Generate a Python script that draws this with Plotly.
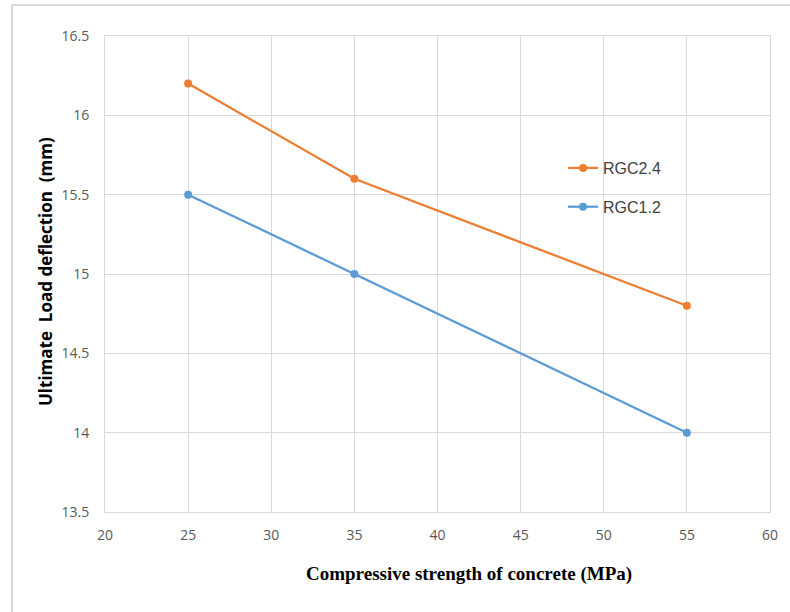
import plotly.graph_objects as go

strength = [25, 35, 55]
rgc24 = [16.2, 15.6, 14.8]
rgc12 = [15.5, 15.0, 14.0]
x_ticks = [20, 25, 30, 35, 40, 45, 50, 55, 60]
y_ticks = [13.5, 14, 14.5, 15, 15.5, 16, 16.5]

fig = go.Figure()
fig.add_trace(go.Scatter(x=strength, y=rgc24, name="RGC2.4", mode="lines+markers",
                         legendgroup="a",
                         line=dict(color="#ED7D31", width=2.25),
                         marker=dict(size=8, color="#ED7D31")))
fig.add_trace(go.Scatter(x=strength, y=rgc12, name="RGC1.2", mode="lines+markers",
                         legendgroup="b",
                         line=dict(color="#5B9BD5", width=2.25),
                         marker=dict(size=8, color="#5B9BD5")))

L, R, T, B = 105, 20, 36, 100
W, H = 790, 612
pw, ph = W - L - R, H - T - B

def px_x(p):
    return (p - L) / pw

def px_y(p):
    return (H - B - p) / ph

fig.update_layout(
    width=W, height=H,
    margin=dict(l=L, r=R, t=T, b=B),
    paper_bgcolor="white", plot_bgcolor="white",
    font=dict(family="Open Sans, Liberation Sans, sans-serif", color="#595959", size=13),
    showlegend=True,
    legend=dict(x=px_x(563), y=px_y(151), xanchor="left", yanchor="top",
                font=dict(size=16, color="#404040", family="Liberation Sans Narrow, Liberation Sans, sans-serif"),
                bgcolor="rgba(0,0,0,0)", tracegroupgap=15, itemwidth=30),
    xaxis=dict(range=[20, 60], tickvals=x_ticks, ticktext=[str(v) for v in x_ticks],
               showgrid=True, gridcolor="#d9d9d9", gridwidth=1,
               showline=True, linecolor="#d9d9d9", mirror=True, zeroline=False,
               ticks="outside", ticklen=10, tickcolor="rgba(0,0,0,0)",
               tickfont=dict(size=14, color="#595959")),
    yaxis=dict(range=[13.5, 16.5], tickvals=y_ticks, ticktext=[str(v) for v in y_ticks],
               showgrid=True, gridcolor="#d9d9d9", gridwidth=1,
               showline=True, linecolor="#d9d9d9", mirror=True, zeroline=False,
               ticks="outside", ticklen=12, tickcolor="rgba(0,0,0,0)",
               tickfont=dict(size=14, color="#595959")),
    annotations=[
        dict(text="<b>Compressive strength of concrete (MPa)</b>", xref="paper", yref="paper",
             x=px_x(469), y=px_y(574), xanchor="center", yanchor="middle", showarrow=False,
             font=dict(family="Liberation Serif, Times New Roman, serif", size=19, color="black")),
        dict(text="<b>Ultimate  Load deflection  (mm)</b>", xref="paper", yref="paper",
             x=px_x(45), y=px_y(272), xanchor="center", yanchor="middle", showarrow=False,
             textangle=-90,
             font=dict(family="Open Sans, DejaVu Sans, sans-serif", size=17, color="black")),
    ],
    shapes=[
        dict(type="line", xref="paper", yref="paper", x0=px_x(12), x1=px_x(12),
             y0=px_y(5), y1=px_y(640), line=dict(color="#d9d9d9", width=2)),
        dict(type="line", xref="paper", yref="paper", x0=px_x(12), x1=px_x(800),
             y0=px_y(5), y1=px_y(5), line=dict(color="#d9d9d9", width=2)),
    ],
)

fig.write_html("out.html")
